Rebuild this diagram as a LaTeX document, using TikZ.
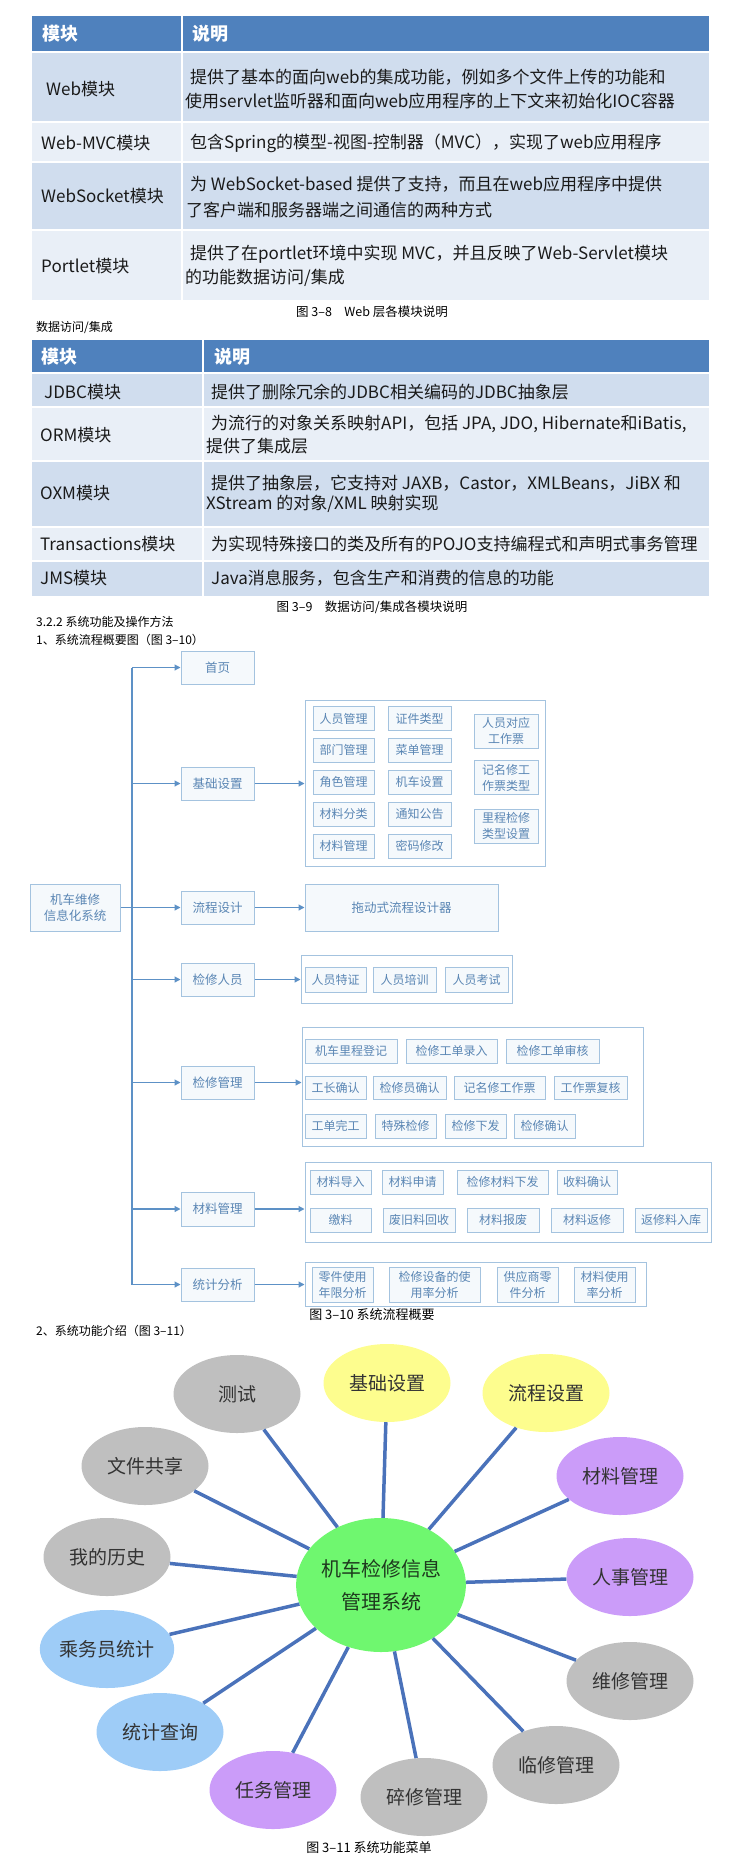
\documentclass[tikz,border=0pt]{standalone}
\usepackage{fontspec}
\setmainfont{Noto Sans CJK SC}
\usetikzlibrary{shapes.geometric,arrows.meta,positioning}
\definecolor{headblue}{HTML}{4F81BD}
\definecolor{rowdark}{HTML}{D0DDEE}
\definecolor{rowlight}{HTML}{E9EFF7}
\definecolor{celltext}{HTML}{1A1A1A}
\definecolor{boxline}{HTML}{A4C3DF}
\definecolor{boxfill}{HTML}{F5F9FC}
\definecolor{boxtext}{HTML}{5A86B4}
\definecolor{arrowcol}{HTML}{5D91C6}
\definecolor{spokecol}{HTML}{4A72BA}
\definecolor{bubgray}{HTML}{BFBFBF}
\definecolor{bubyellow}{HTML}{FDFD8E}
\definecolor{bubpurple}{HTML}{CB9CF9}
\definecolor{bubblue}{HTML}{9ECCF7}
\definecolor{bubgreen}{HTML}{6FF76F}
\definecolor{bubtext}{HTML}{333333}
\definecolor{hubtext}{HTML}{1E3A1E}

\begin{document}
\begin{tikzpicture}[x=1pt,y=-1pt,
  tabcell/.style={anchor=west,inner sep=0pt,text=celltext,font=\fontsize{17}{20}\selectfont},
  headtxt/.style={anchor=west,inner sep=0pt,text=white,font=\bfseries\fontsize{18}{20}\selectfont},
  plaintxt/.style={anchor=west,inner sep=0pt,font=\fontsize{12}{14}\selectfont},
  figcap/.style={inner sep=0pt,font=\fontsize{12.5}{14}\selectfont},
  wh/.style 2 args={minimum width=#1pt,minimum height=#2pt},
  fbox/.style={draw=boxline,fill=boxfill,line width=1pt,text=boxtext,inner sep=0pt,align=center,font=\fontsize{12.5}{16}\selectfont},
  ibox/.style={fbox,font=\fontsize{12}{16}\selectfont},
  gbox/.style={draw=boxline,fill=white,line width=1pt,inner sep=0pt},
  fline/.style={draw=arrowcol,line width=1.2pt},
  farrow/.style={fline,-{Triangle[length=6pt,width=6pt]}},
  bubble/.style={ellipse,inner sep=0pt,minimum width=127pt,minimum height=78pt,text=bubtext,font=\fontsize{19}{21}\selectfont},
  spoke/.style={draw=spokecol,line width=3.5pt}]
\useasboundingbox (0,0) rectangle (749,1860);

% Web table
\fill[headblue] (32,16) rectangle (709,52);
\fill[rowdark] (32,52) rectangle (709,122);
\fill[rowlight] (32,122) rectangle (709,162);
\fill[rowdark] (32,162) rectangle (709,230);
\fill[rowlight] (32,230) rectangle (709,300);
\draw[white,line width=1.5pt] (182,16) -- (182,300);
\draw[white,line width=1.5pt] (32,52) -- (709,52);
\draw[white,line width=1.5pt] (32,122) -- (709,122);
\draw[white,line width=1.5pt] (32,162) -- (709,162);
\draw[white,line width=1.5pt] (32,230) -- (709,230);
\node[headtxt] (webhead1) at (42,34) {模块};
\node[headtxt] (webhead2) at (192,34) {说明};
\node[tabcell] (webmod) at (46,89) {Web模块};
\node[tabcell] (webdesc1) at (190,77) {提供了基本的面向web的集成功能，例如多个文件上传的功能和};
\node[tabcell] (webdesc2) at (185,101) {使用servlet监听器和面向web应用程序的上下文来初始化IOC容器};
\node[tabcell] (mvcmod) at (41,143) {Web-MVC模块};
\node[tabcell] (mvcdesc) at (190,143) {包含Spring的模型-视图-控制器（MVC），实现了web应用程序};
\node[tabcell] (sockmod) at (41,196) {WebSocket模块};
\node[tabcell] (sockdesc1) at (190,184) {为 WebSocket-based 提供了支持，而且在web应用程序中提供};
\node[tabcell] (sockdesc2) at (186,210) {了客户端和服务器端之间通信的两种方式};
\node[tabcell] (portmod) at (41,266) {Portlet模块};
\node[tabcell] (portdesc1) at (190,254) {提供了在portlet环境中实现 MVC，并且反映了Web-Servlet模块};
\node[tabcell] (portdesc2) at (185,278) {的功能数据访问/集成};
\node[figcap] (cap8) at (372,312) {图 3–8\quad Web 层各模块说明};
\node[plaintxt] (dataline) at (36,328) {数据访问/集成};

% Data table
\fill[headblue] (32,340) rectangle (709,373);
\fill[rowdark] (32,373) rectangle (709,407);
\fill[rowlight] (32,407) rectangle (709,461);
\fill[rowdark] (32,461) rectangle (709,527);
\fill[rowlight] (32,527) rectangle (709,561);
\fill[rowdark] (32,561) rectangle (709,596);
\draw[white,line width=1.5pt] (203,340) -- (203,596);
\draw[white,line width=1.5pt] (32,373) -- (709,373);
\draw[white,line width=1.5pt] (32,407) -- (709,407);
\draw[white,line width=1.5pt] (32,461) -- (709,461);
\draw[white,line width=1.5pt] (32,527) -- (709,527);
\draw[white,line width=1.5pt] (32,561) -- (709,561);
\node[headtxt] (datahead1) at (41,357) {模块};
\node[headtxt] (datahead2) at (214,357) {说明};
\node[tabcell] (jdbcmod) at (44,392) {JDBC模块};
\node[tabcell] (jdbcdesc) at (211,392) {提供了删除冗余的JDBC相关编码的JDBC抽象层};
\node[tabcell] (ormmod) at (40,435) {ORM模块};
\node[tabcell] (ormdesc1) at (211,424) {为流行的对象关系映射API，包括 JPA, JDO, Hibernate和iBatis,};
\node[tabcell] (ormdesc2) at (206,446) {提供了集成层};
\node[tabcell] (oxmmod) at (40,493) {OXM模块};
\node[tabcell] (oxmdesc1) at (211,483) {提供了抽象层，它支持对 JAXB，Castor，XMLBeans，JiBX 和};
\node[tabcell] (oxmdesc2) at (206,504) {XStream 的对象/XML 映射实现};
\node[tabcell] (transmod) at (40,544) {Transactions模块};
\node[tabcell] (transdesc) at (211,544) {为实现特殊接口的类及所有的POJO支持编程式和声明式事务管理};
\node[tabcell] (jmsmod) at (40,578) {JMS模块};
\node[tabcell] (jmsdesc) at (211,578) {Java消息服务，包含生产和消费的信息的功能};
\node[figcap] (cap9) at (372,607) {图 3–9\quad 数据访问/集成各模块说明};
\node[plaintxt] (secline) at (36,622) {3.2.2 系统功能及操作方法};
\node[plaintxt] (flowline) at (36,640) {1、系统流程概要图（图 3–10）};

% Flow chart: root and first level
\node[fbox,wh={90}{47}] (root) at (75,907.5) {机车维修\\信息化系统};
\coordinate (trunktop) at (132,667.5);
\coordinate (trunkbot) at (132,1284.5);
\node[fbox,wh={73}{33}] (home) at (217.5,667.5) {首页};
\node[fbox,wh={73}{33}] (base) at (217.5,783.5) {基础设置};
\node[fbox,wh={73}{33}] (flow) at (217.5,907.5) {流程设计};
\node[fbox,wh={73}{33}] (staff) at (217.5,979.5) {检修人员};
\node[fbox,wh={73}{33}] (repair) at (217.5,1082.5) {检修管理};
\node[fbox,wh={73}{34}] (mat) at (217.5,1209) {材料管理};
\node[fbox,wh={73}{33}] (stat) at (217.5,1284.5) {统计分析};

% Groups
\node[gbox,wh={240}{166}] (gbase) at (425,783) {};
\node[fbox,wh={193}{47}] (gflow) at (401.5,907.5) {拖动式流程设计器};
\node[gbox,wh={211}{48}] (gstaff) at (406.5,979) {};
\node[gbox,wh={341}{119}] (grepair) at (472.5,1086.5) {};
\node[gbox,wh={406}{80}] (gmat) at (508,1202) {};
\node[gbox,wh={341}{44}] (gstat) at (475.5,1284) {};

% Connections
\draw[fline] (trunktop) -- (trunkbot);
\draw[fline] (root.east) -- (root.east -| trunktop);
\draw[farrow] (home -| trunktop) -- (home.west);
\draw[farrow] (base -| trunktop) -- (base.west);
\draw[farrow] (flow -| trunktop) -- (flow.west);
\draw[farrow] (staff -| trunktop) -- (staff.west);
\draw[farrow] (repair -| trunktop) -- (repair.west);
\draw[farrow] (mat -| trunktop) -- (mat.west);
\draw[farrow] (stat -| trunktop) -- (stat.west);
\draw[farrow] (base.east) -- (base.east -| gbase.west);
\draw[farrow] (flow.east) -- (flow.east -| gflow.west);
\draw[farrow] (staff.east) -- (staff.east -| gstaff.west);
\draw[farrow] (repair.east) -- (repair.east -| grepair.west);
\draw[farrow] (mat.east) -- (mat.east -| gmat.west);
\draw[farrow] (stat.east) -- (stat.east -| gstat.west);

% Basic settings items
\node[ibox,wh={61}{24}] (b11) at (343.5,718.5) {人员管理};
\node[ibox,wh={61}{24}] (b12) at (343.5,750) {部门管理};
\node[ibox,wh={61}{24}] (b13) at (343.5,782) {角色管理};
\node[ibox,wh={61}{24}] (b14) at (343.5,814) {材料分类};
\node[ibox,wh={61}{24}] (b15) at (343.5,846) {材料管理};
\node[ibox,wh={63}{24}] (b21) at (419.5,718.5) {证件类型};
\node[ibox,wh={63}{24}] (b22) at (419.5,750) {菜单管理};
\node[ibox,wh={63}{24}] (b23) at (419.5,782) {机车设置};
\node[ibox,wh={63}{24}] (b24) at (419.5,814) {通知公告};
\node[ibox,wh={63}{24}] (b25) at (419.5,846) {密码修改};
\node[ibox,wh={64}{34}] (b31) at (506,731) {人员对应\\工作票};
\node[ibox,wh={64}{34}] (b32) at (506,777.5) {记名修工\\作票类型};
\node[ibox,wh={64}{34}] (b33) at (506,826) {里程检修\\类型设置};

% Staff items
\node[ibox,wh={61}{25}] (s1) at (335.5,979.5) {人员特证};
\node[ibox,wh={63}{25}] (s2) at (404.5,979.5) {人员培训};
\node[ibox,wh={63}{25}] (s3) at (476.5,979.5) {人员考试};

% Repair items
\node[ibox,wh={92}{24}] (r11) at (351,1051) {机车里程登记};
\node[ibox,wh={91}{24}] (r12) at (451.5,1051) {检修工单录入};
\node[ibox,wh={93}{24}] (r13) at (552.5,1051) {检修工单审核};
\node[ibox,wh={61}{23}] (r21) at (335.5,1087.5) {工长确认};
\node[ibox,wh={73}{23}] (r22) at (409.5,1087.5) {检修员确认};
\node[ibox,wh={91}{23}] (r23) at (499.5,1087.5) {记名修工作票};
\node[ibox,wh={73}{23}] (r24) at (590.5,1087.5) {工作票复核};
\node[ibox,wh={61}{24}] (r31) at (335.5,1126) {工单完工};
\node[ibox,wh={61}{24}] (r32) at (405.5,1126) {特殊检修};
\node[ibox,wh={61}{24}] (r33) at (475.5,1126) {检修下发};
\node[ibox,wh={61}{24}] (r34) at (544.5,1126) {检修确认};

% Material items
\node[ibox,wh={61}{24}] (m11) at (340.5,1182) {材料导入};
\node[ibox,wh={61}{24}] (m12) at (412.5,1182) {材料申请};
\node[ibox,wh={91}{24}] (m13) at (502.5,1182) {检修材料下发};
\node[ibox,wh={60}{24}] (m14) at (587,1182) {收料确认};
\node[ibox,wh={61}{24}] (m21) at (340.5,1220) {缴料};
\node[ibox,wh={72}{24}] (m22) at (419,1220) {废旧料回收};
\node[ibox,wh={72}{24}] (m23) at (503,1220) {材料报废};
\node[ibox,wh={72}{24}] (m24) at (587,1220) {材料返修};
\node[ibox,wh={72}{24}] (m25) at (671,1220) {返修料入库};

% Statistics items
\node[ibox,wh={61}{35}] (t1) at (342.5,1284.5) {零件使用\\年限分析};
\node[ibox,wh={91}{35}] (t2) at (434.5,1284.5) {检修设备的使\\用率分析};
\node[ibox,wh={61}{35}] (t3) at (527.5,1284.5) {供应商零\\件分析};
\node[ibox,wh={61}{35}] (t4) at (604.5,1284.5) {材料使用\\率分析};

\node[figcap,font=\fontsize{13}{15}\selectfont] (cap10) at (372,1315) {图 3–10 系统流程概要};
\node[plaintxt] (menuline) at (36,1331) {2、系统功能介绍（图 3–11）};

% Function menu
\node[ellipse,fill=bubgreen,inner sep=0pt,minimum width=141pt,minimum height=134pt,align=center,text=hubtext,font=\fontsize{20}{33}\selectfont] (hub) at (381,1585) {机车检修信息\\管理系统};
\node[bubble,fill=bubgray] (test) at (237,1394) {测试};
\node[bubble,fill=bubyellow] (basic) at (387,1383) {基础设置};
\node[bubble,fill=bubyellow] (process) at (546,1393) {流程设置};
\node[bubble,fill=bubpurple] (material) at (620,1476) {材料管理};
\node[bubble,fill=bubpurple] (personnel) at (630,1577) {人事管理};
\node[bubble,fill=bubgray] (maintain) at (630,1681) {维修管理};
\node[bubble,fill=bubgray] (temprep) at (556,1765) {临修管理};
\node[bubble,fill=bubgray] (minorrep) at (424,1797) {碎修管理};
\node[bubble,fill=bubpurple] (task) at (273,1790) {任务管理};
\node[bubble,fill=bubblue] (query) at (160,1732) {统计查询};
\node[bubble,fill=bubblue] (crew) at (107,1649) {乘务员统计};
\node[bubble,fill=bubgray] (history) at (107,1557) {我的历史};
\node[bubble,fill=bubgray] (share) at (145,1466) {文件共享};

\draw[spoke] (hub) -- (test);
\draw[spoke] (hub) -- (basic);
\draw[spoke] (hub) -- (process);
\draw[spoke] (hub) -- (material);
\draw[spoke] (hub) -- (personnel);
\draw[spoke] (hub) -- (maintain);
\draw[spoke] (hub) -- (temprep);
\draw[spoke] (hub) -- (minorrep);
\draw[spoke] (hub) -- (task);
\draw[spoke] (hub) -- (query);
\draw[spoke] (hub) -- (crew);
\draw[spoke] (hub) -- (history);
\draw[spoke] (hub) -- (share);

\node[figcap,font=\fontsize{13}{15}\selectfont] (cap11) at (369,1848) {图 3–11 系统功能菜单};
\end{tikzpicture}
\end{document}
